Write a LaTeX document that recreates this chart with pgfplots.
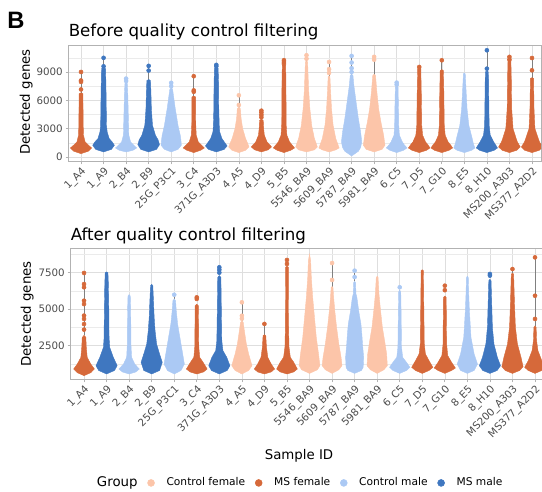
\documentclass[border=0pt]{standalone}
\usepackage{fontspec}
\setmainfont{DejaVu Sans}
\newfontfamily\panelfont{Liberation Sans}
\usepackage{pgfplots}
\pgfplotsset{compat=1.18}

\definecolor{ctrlF}{HTML}{FCC5A9}
\definecolor{msF}{HTML}{D6693A}
\definecolor{ctrlM}{HTML}{ABC9F4}
\definecolor{msM}{HTML}{3F77C0}

% violin: #1 position, #2 colour, #3 list of value/half-width from bottom to top
\newcommand\vio[3]{%
  \gdef\vl{}\gdef\vr{}%
  \foreach \yy/\ww in {#3}{%
    \pgfmathsetmacro\xa{#1-\ww}\pgfmathsetmacro\xb{#1+\ww}%
    \xdef\vl{\vl(\xa,\yy)}\xdef\vr{(\xb,\yy)\vr}}%
  \edef\vtmp{\noexpand\addplot[forget plot, draw=#2, fill=#2, line width=0.3pt] coordinates {\vl\vr};}%
  \vtmp}
\newcommand\wsk[3]{\addplot[forget plot, color=gray, line width=0.5pt] coordinates {(#1,#2) (#1,#3)};}
\newcommand\pts[2]{\addplot[forget plot, only marks, mark=*, mark size=1.5pt, color=#1] coordinates {#2};}

\pgfplotsset{
  panel/.style={
    scale only axis,
    xtick={0,...,20},
    xticklabels={1\_A4, 1\_A9, 2\_B4, 2\_B9, 25G\_P3C1, 3\_C4, 371G\_A3D3, 4\_A5, 4\_D9, 5\_B5, 5546\_BA9, 5609\_BA9, 5787\_BA9, 5981\_BA9, 6\_C5, 7\_D5, 7\_G10, 8\_E5, 8\_H10, MS200\_A303, MS377\_A2D2},
    xtick pos=lower, ytick pos=left,
    tick align=outside, major tick length=2.2pt, minor tick length=0pt,
    axis line style={black!30, line width=0.6pt},
    tick style={black!30, line width=0.5pt},
    xmajorgrids, ymajorgrids, yminorgrids,
    major grid style={black!13, line width=0.4pt},
    minor grid style={black!8, line width=0.25pt},
    scaled y ticks=false,
    /pgf/number format/assume math mode=true,
    /pgf/number format/1000 sep={},
    tick label style={text=black!70, font=\fontsize{7.7}{8}\selectfont},
    xticklabel style={rotate=45, anchor=north east, inner sep=1pt},
    yticklabel style={inner sep=2pt},
  },
  dotlegend/.style={legend image code/.code={\draw[##1, only marks, mark=*, mark size=2.6pt] plot coordinates {(0.1cm,0cm)};}},
}

\begin{document}
\begin{tikzpicture}
\useasboundingbox (0,0) rectangle (406.5pt,369pt);

\node[anchor=base west, font=\panelfont\bfseries\fontsize{17.8}{18}\selectfont, inner sep=0pt] at (5.25pt,347.25pt) {B};
\node[anchor=base west, font=\fontsize{12.5}{14}\selectfont, inner sep=0pt] at (51.4pt,341.5pt) {Before quality control filtering};
\node[anchor=base west, font=\fontsize{12.5}{14}\selectfont, inner sep=0pt] at (52.9pt,188.5pt) {After quality control filtering};
\node[rotate=90, font=\fontsize{10}{12}\selectfont, inner sep=0pt] at (19.6pt,292.5pt) {Detected genes};
\node[rotate=90, font=\fontsize{10}{12}\selectfont, inner sep=0pt] at (20.4pt,133.5pt) {Detected genes};
\node[font=\fontsize{10}{12}\selectfont, inner sep=0pt] at (224.25pt,27pt) {Sample ID};

% ---------- before filtering ----------
\begin{axis}[panel, at={(51.375pt,247.9pt)}, anchor=south west,
  width=354.375pt, height=87.15pt,
  xmin=-0.555, xmax=20.4, ymin=-480, ymax=11830,
  ytick={0,3000,6000,9000}, minor ytick={1500,4500,7500,10500}]
\wsk{0}{6700}{9000}
\vio{0}{msF}{350/0, 600/0.32, 950/0.47, 1240/0.33, 1600/0.18, 2300/0.11, 3500/0.095, 6700/0.085, 6800/0}
\pts{msF}{(0,7150) (0,7950) (0,8100) (0,9000)}
\wsk{1}{9350}{10500}
\vio{1}{msM}{530/0, 800/0.35, 1240/0.48, 1600/0.38, 1940/0.25, 2650/0.16, 3350/0.13, 5100/0.12, 6900/0.11, 9350/0.09, 9450/0}
\pts{msM}{(1,9600) (1,10500)}
\vio{2}{ctrlM}{530/0, 700/0.3, 950/0.47, 1240/0.34, 1590/0.2, 2300/0.12, 5100/0.09, 7000/0.07, 7800/0.05, 7900/0}
\pts{ctrlM}{(2,8050) (2,8300)}
\wsk{3}{8100}{9650}
\vio{3}{msM}{530/0, 800/0.35, 1300/0.48, 1800/0.42, 2300/0.3, 3350/0.17, 5100/0.12, 6900/0.1, 8100/0.08, 8200/0}
\pts{msM}{(3,9150) (3,9650)}
\vio{4}{ctrlM}{530/0, 800/0.3, 1240/0.45, 1800/0.43, 2300/0.4, 3350/0.3, 4400/0.23, 5100/0.18, 6500/0.1, 7200/0.06, 7300/0}
\pts{ctrlM}{(4,7500) (4,7850)}
\wsk{5}{6350}{8550}
\vio{5}{msF}{460/0, 700/0.3, 950/0.47, 1240/0.35, 1600/0.2, 2300/0.11, 3350/0.09, 6350/0.08, 6450/0}
\pts{msF}{(5,6900) (5,7050) (5,8550)}
\vio{6}{msM}{530/0, 800/0.35, 1165/0.48, 1600/0.35, 1940/0.25, 2650/0.15, 3350/0.13, 5100/0.11, 7900/0.1, 9400/0.08, 9500/0}
\pts{msM}{(6,9600) (6,9750)}
\wsk{7}{5300}{6530}
\vio{7}{ctrlF}{460/0, 700/0.3, 1060/0.45, 1500/0.38, 1940/0.3, 3000/0.17, 4060/0.1, 5100/0.07, 5300/0}
\pts{ctrlF}{(7,5500) (7,6530)}
\vio{8}{msF}{530/0, 750/0.3, 1060/0.45, 1590/0.25, 2300/0.13, 3000/0.1, 3880/0.08, 4000/0}
\pts{msF}{(8,4200) (8,4450) (8,4700) (8,4900)}
\vio{9}{msF}{460/0, 700/0.3, 950/0.47, 1300/0.35, 1590/0.25, 2300/0.13, 3350/0.1, 8650/0.085, 9700/0.07, 9800/0}
\pts{msF}{(9,9850) (9,10050) (9,10250)}
\wsk{10}{10060}{10770}
\vio{10}{ctrlF}{530/0, 750/0.35, 1060/0.48, 1500/0.42, 1940/0.35, 3350/0.23, 5100/0.15, 6900/0.1, 8650/0.07, 10060/0.05, 10150/0}
\pts{ctrlF}{(10,10400) (10,10770)}
\wsk{11}{8500}{10060}
\vio{11}{ctrlF}{530/0, 750/0.3, 950/0.45, 1400/0.38, 1940/0.3, 3350/0.18, 5100/0.11, 6900/0.07, 8500/0.04, 8600/0}
\pts{ctrlF}{(11,8900) (11,9300) (11,10060)}
\wsk{12}{8650}{10700}
\vio{12}{ctrlM}{100/0, 300/0.12, 600/0.3, 1000/0.4, 1600/0.45, 2650/0.4, 4060/0.3, 5800/0.2, 7600/0.1, 8650/0.06, 8750/0}
\pts{ctrlM}{(12,9000) (12,9400) (12,10000) (12,10700)}
\wsk{13}{8650}{10600}
\vio{13}{ctrlF}{530/0, 800/0.35, 1240/0.48, 2300/0.42, 3700/0.3, 5100/0.2, 6900/0.12, 8650/0.06, 8750/0}
\pts{ctrlF}{(13,10300) (13,10600)}
\vio{14}{ctrlM}{460/0, 700/0.3, 950/0.46, 1300/0.33, 1590/0.25, 2300/0.12, 3350/0.09, 5100/0.08, 7400/0.06, 7500/0}
\pts{ctrlM}{(14,7650) (14,7870)}
\vio{15}{msF}{460/0, 700/0.32, 950/0.48, 1300/0.38, 1590/0.28, 2300/0.15, 3350/0.11, 6900/0.09, 9350/0.07, 9450/0}
\pts{msF}{(15,9530)}
\wsk{16}{9150}{10240}
\vio{16}{msF}{460/0, 700/0.32, 950/0.48, 1300/0.38, 1590/0.28, 2300/0.15, 3350/0.11, 6900/0.09, 9150/0.07, 9250/0}
\pts{msF}{(16,10240)}
\vio{17}{ctrlM}{460/0, 700/0.32, 950/0.47, 1400/0.4, 1940/0.35, 3350/0.2, 5100/0.12, 6900/0.08, 8800/0.04, 8900/0}
\wsk{18}{9000}{11300}
\vio{18}{msM}{460/0, 700/0.32, 950/0.47, 1300/0.38, 1590/0.3, 2300/0.15, 3350/0.1, 6900/0.08, 9000/0.07, 9100/0}
\pts{msM}{(18,9350) (18,11300)}
\vio{19}{msF}{460/0, 700/0.32, 1060/0.48, 1600/0.35, 1940/0.3, 3000/0.16, 5100/0.1, 8650/0.08, 10600/0.06, 10700/0}
\pts{msF}{(19,10300) (19,10600)}
\wsk{20}{8300}{10480}
\vio{20}{msF}{460/0, 700/0.32, 1060/0.47, 1600/0.33, 1940/0.28, 3000/0.13, 5100/0.09, 8300/0.07, 8400/0}
\pts{msF}{(20,9180) (20,10480)}
\end{axis}

% ---------- after filtering ----------
\begin{axis}[panel, at={(52.875pt,84.4pt)}, anchor=south west,
  width=353.625pt, height=98.6pt,
  xmin=-0.6, xmax=20.31, ymin=185, ymax=9191,
  ytick={2500,5000,7500}, minor ytick={1250,3750,6250,8750},
  legend columns=-1,
  legend style={at={(0.4755,-0.787)}, anchor=center, draw=none, fill=none,
    font=\fontsize{8}{9.6}\selectfont, inner sep=0pt,
    nodes={inner sep=1.5pt},
    /tikz/every even column/.append style={column sep=6pt},
    /tikz/every odd column/.append style={column sep=7.5pt}}]
\addlegendimage{empty legend}\addlegendentry{\fontsize{10}{12}\selectfont Group}
\addlegendimage{dotlegend, color=ctrlF}\addlegendentry{Control female}
\addlegendimage{dotlegend, color=msF}\addlegendentry{MS female}
\addlegendimage{dotlegend, color=ctrlM}\addlegendentry{Control male}
\addlegendimage{dotlegend, color=msM}\addlegendentry{MS male}

\wsk{0}{3200}{7480}
\vio{0}{msF}{445/0, 650/0.3, 900/0.46, 1240/0.3, 1700/0.14, 2400/0.1, 3070/0.08, 3200/0}
\pts{msF}{(0,3600) (0,3980) (0,4330) (0,4560) (0,5350) (0,5580) (0,6500) (0,6720) (0,7480)}
\vio{1}{msM}{560/0, 800/0.35, 1130/0.47, 1700/0.3, 2380/0.14, 3070/0.11, 4900/0.1, 6720/0.08, 7500/0.06, 7550/0}
\vio{2}{ctrlM}{560/0, 700/0.3, 900/0.45, 1240/0.25, 1700/0.11, 2600/0.08, 4900/0.07, 5900/0.05, 6000/0}
\vio{3}{msM}{560/0, 800/0.35, 1360/0.47, 1930/0.35, 2600/0.22, 3530/0.15, 4440/0.11, 5580/0.08, 6610/0.05, 6700/0}
\wsk{4}{5700}{5990}
\vio{4}{ctrlM}{560/0, 800/0.3, 1240/0.45, 2160/0.35, 3070/0.25, 3980/0.15, 4900/0.09, 5580/0.06, 5700/0}
\pts{ctrlM}{(4,5990)}
\vio{5}{msF}{560/0, 700/0.3, 900/0.46, 1360/0.28, 1700/0.13, 2400/0.09, 5240/0.07, 5350/0}
\pts{msF}{(5,5700) (5,5810)}
\vio{6}{msM}{560/0, 800/0.35, 1130/0.47, 1700/0.33, 2160/0.16, 2840/0.11, 4900/0.09, 7180/0.07, 7300/0}
\pts{msM}{(6,7500) (6,7700) (6,7870)}
\wsk{7}{4200}{5470}
\vio{7}{ctrlF}{560/0, 800/0.3, 1130/0.45, 1930/0.3, 2600/0.2, 3530/0.11, 4100/0.06, 4200/0}
\pts{ctrlF}{(7,4350) (7,4550) (7,5470)}
\wsk{8}{3250}{3990}
\vio{8}{msF}{560/0, 700/0.3, 900/0.45, 1240/0.3, 1700/0.15, 2400/0.09, 3190/0.06, 3250/0}
\pts{msF}{(8,3990)}
\vio{9}{msF}{560/0, 700/0.3, 900/0.46, 1360/0.3, 1700/0.15, 2400/0.09, 3760/0.07, 7870/0.06, 7950/0}
\pts{msF}{(9,8100) (9,8370)}
\vio{10}{ctrlF}{600/0, 850/0.35, 1130/0.46, 1930/0.4, 3070/0.3, 4440/0.22, 5810/0.14, 7180/0.08, 8320/0.05, 8780/0}
\wsk{11}{6500}{8160}
\vio{11}{ctrlF}{600/0, 850/0.3, 1130/0.44, 1700/0.4, 2610/0.3, 3760/0.2, 4900/0.12, 5810/0.07, 6500/0.04, 6550/0}
\pts{ctrlF}{(11,7000) (11,8160)}
\wsk{12}{6900}{7640}
\vio{12}{ctrlM}{600/0, 800/0.3, 1016/0.38, 1700/0.4, 2610/0.35, 3300/0.32, 3980/0.28, 4900/0.18, 5810/0.1, 6040/0.06, 6840/0.04, 6900/0}
\pts{ctrlM}{(12,7200) (12,7640)}
\vio{13}{ctrlF}{600/0, 850/0.3, 1130/0.45, 1930/0.42, 2840/0.33, 3760/0.23, 4900/0.15, 6040/0.08, 7180/0.04, 7250/0}
\vio{14}{ctrlM}{600/0, 800/0.3, 1016/0.45, 1360/0.3, 1700/0.13, 2400/0.08, 4900/0.06, 6200/0.045, 6300/0}
\pts{ctrlM}{(14,6500)}
\vio{15}{msF}{600/0, 800/0.3, 1016/0.47, 1470/0.3, 1930/0.14, 2600/0.09, 4900/0.07, 7640/0.05, 7700/0}
\vio{16}{msF}{600/0, 800/0.3, 970/0.47, 1360/0.3, 1820/0.13, 2600/0.08, 5810/0.06, 5900/0}
\pts{msF}{(16,6300) (16,6610)}
\vio{17}{ctrlM}{600/0, 800/0.3, 1240/0.45, 1930/0.3, 3070/0.16, 4900/0.09, 6040/0.06, 7180/0.04, 7250/0}
\vio{18}{msM}{600/0, 800/0.32, 1130/0.47, 1700/0.33, 2610/0.18, 3760/0.11, 5350/0.08, 6950/0.05, 7050/0}
\pts{msM}{(18,7300) (18,7410)}
\wsk{19}{7450}{7750}
\vio{19}{msF}{600/0, 800/0.32, 1060/0.47, 1700/0.38, 2610/0.22, 3760/0.13, 5350/0.09, 6950/0.06, 7410/0.05, 7450/0}
\pts{msF}{(19,7750)}
\wsk{20}{3850}{8550}
\vio{20}{msF}{600/0, 800/0.3, 1016/0.46, 1470/0.3, 2160/0.13, 2840/0.07, 3760/0.05, 3850/0}
\pts{msF}{(20,4330) (20,5920) (20,8550)}
\end{axis}
\end{tikzpicture}
\end{document}
